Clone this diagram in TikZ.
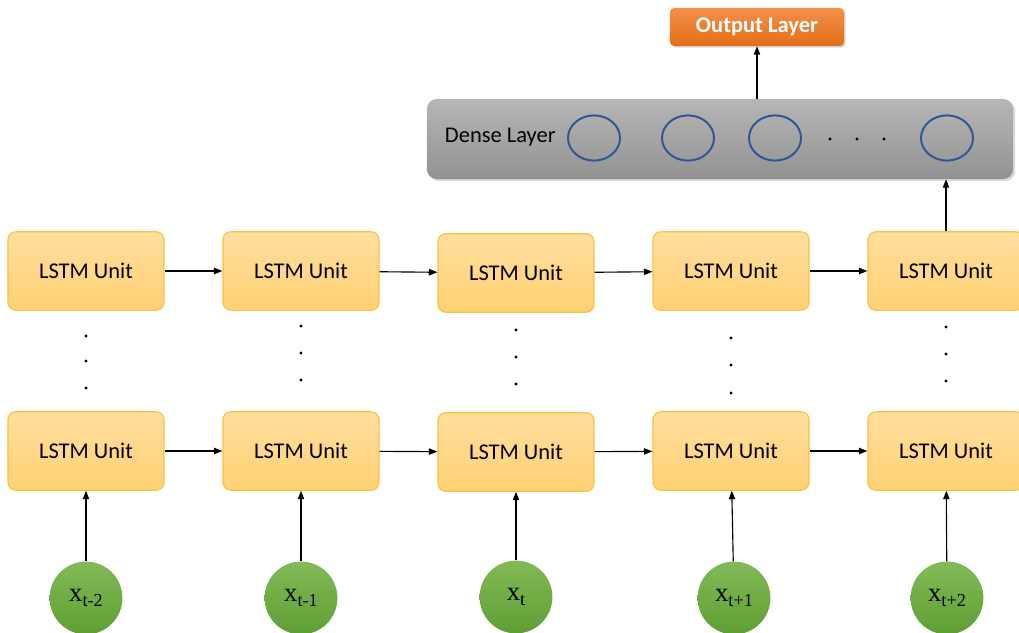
\documentclass[tikz,border=0pt]{standalone}
\usepackage{fontspec}
\setmainfont{Carlito}
\newfontfamily\timesfont{Liberation Serif}
\usetikzlibrary{arrows.meta,shadows,shapes.geometric}
\definecolor{lstmtop}{HTML}{FFDE9E}
\definecolor{lstmbot}{HTML}{FFD173}
\definecolor{lstmline}{HTML}{F6C343}
\definecolor{greentop}{HTML}{82BA57}
\definecolor{greenbot}{HTML}{5E9F33}
\definecolor{graytop}{HTML}{B6B6B6}
\definecolor{graybot}{HTML}{929292}
\definecolor{outtop}{HTML}{F39149}
\definecolor{outbot}{HTML}{E46D18}
\definecolor{neuronblue}{HTML}{2F5597}
\newcommand{\xin}[1]{\raisebox{-3pt}{x\raisebox{-3.5pt}{\fontsize{13}{13}\selectfont #1}}}
\tikzset{
  unit/.style={rectangle, rounded corners=5.5pt, draw=lstmline, line width=0.8pt,
    top color=lstmtop, bottom color=lstmbot, minimum width=3.9cm,
    minimum height=1.96cm, font=\fontsize{16}{18}\selectfont},
  inp/.style={circle, top color=greentop, bottom color=greenbot, inner sep=0pt,
    minimum size=1.82cm, font=\timesfont\fontsize{19}{20}\selectfont},
  densebox/.style={rectangle, rounded corners=7pt, top color=graytop, bottom color=graybot,
    minimum width=14.65cm, minimum height=2cm,
    drop shadow={shadow xshift=1.5pt, shadow yshift=-1.5pt, opacity=0.3}},
  outbox/.style={rectangle, rounded corners=3pt, top color=outtop, bottom color=outbot,
    minimum width=4.35cm, minimum height=0.95cm, text=white,
    font=\bfseries\fontsize{16}{18}\selectfont,
    drop shadow={shadow xshift=1.2pt, shadow yshift=-1.2pt, opacity=0.3}},
  neuron/.style={ellipse, draw=neuronblue, line width=1.4pt, inner sep=0pt,
    minimum width=1.3cm, minimum height=1.13cm},
  vdot/.style={circle, fill=black, inner sep=0pt, minimum size=2.2pt},
  link/.style={-{Triangle[length=6pt,width=4.5pt]}, line width=0.8pt},
}
\begin{document}
\begin{tikzpicture}[x=0.025cm,y=-0.025cm]
  \useasboundingbox (0,0) rectangle (1019,632);
  \clip (0,0) rectangle (1019,632);
  % output and dense layer
  \node[outbox] (out) at (757,27) {Output Layer};
  \node[densebox] (dense) at (720,139) {};
  \node[anchor=west, font=\fontsize{16}{18}\selectfont] (dlabel) at (440,137) {Dense Layer};
  \draw
    (594,138) node[neuron] (d1){}
    (688,138) node[neuron] (d2){}
    (775,138) node[neuron] (d3){}
    (947,138) node[neuron] (d4){};
  \draw
    (830,139) node[vdot] (e1){}
    (857,139) node[vdot] (e2){}
    (884,139) node[vdot] (e3){};
  % lstm units
  \draw
    (86,271) node[unit] (t1){LSTM Unit}
    (301,271) node[unit] (t2){LSTM Unit}
    (516,273) node[unit] (t3){LSTM Unit}
    (731,271) node[unit] (t4){LSTM Unit}
    (946,271) node[unit] (t5){LSTM Unit};
  \draw
    (86,451) node[unit] (b1){LSTM Unit}
    (301,451) node[unit] (b2){LSTM Unit}
    (516,452) node[unit] (b3){LSTM Unit}
    (731,451) node[unit] (b4){LSTM Unit}
    (946,451) node[unit] (b5){LSTM Unit};
  % dots between the layers
  \draw
    (86,336) node[vdot] (p11){} (86,361) node[vdot] (p12){} (86,388) node[vdot] (p13){}
    (301,326) node[vdot] (p21){} (301,353) node[vdot] (p22){} (301,380) node[vdot] (p23){}
    (516,330) node[vdot] (p31){} (516,357) node[vdot] (p32){} (516,384) node[vdot] (p33){}
    (731,338) node[vdot] (p41){} (731,365) node[vdot] (p42){} (731,393) node[vdot] (p43){}
    (946,327) node[vdot] (p51){} (946,354) node[vdot] (p52){} (946,381) node[vdot] (p53){};
  % inputs
  \draw
    (86,598) node[inp] (x1){\xin{t-2}}
    (301,598) node[inp] (x2){\xin{t-1}}
    (516,597) node[inp] (x3){\xin{t}}
    (734,598) node[inp] (x4){\xin{t+1}}
    (947,598) node[inp] (x5){\xin{t+2}};
  \begin{scope}[link]
    \draw (t1) to (t2);
    \draw (t2) to (t3);
    \draw (t3) to (t4);
    \draw (t4) to (t5);
    \draw (b1) to (b2);
    \draw (b2) to (b3);
    \draw (b3) to (b4);
    \draw (b4) to (b5);
    \draw (x1) to (b1);
    \draw (x2) to (b2);
    \draw (x3) to (b3);
    \draw (x4) to (b4);
    \draw (x5) to (b5);
    \draw (t5.north) to (t5.north |- dense.south);
    \draw (out.south |- dense.north) to (out.south);
  \end{scope}
\end{tikzpicture}
\end{document}
